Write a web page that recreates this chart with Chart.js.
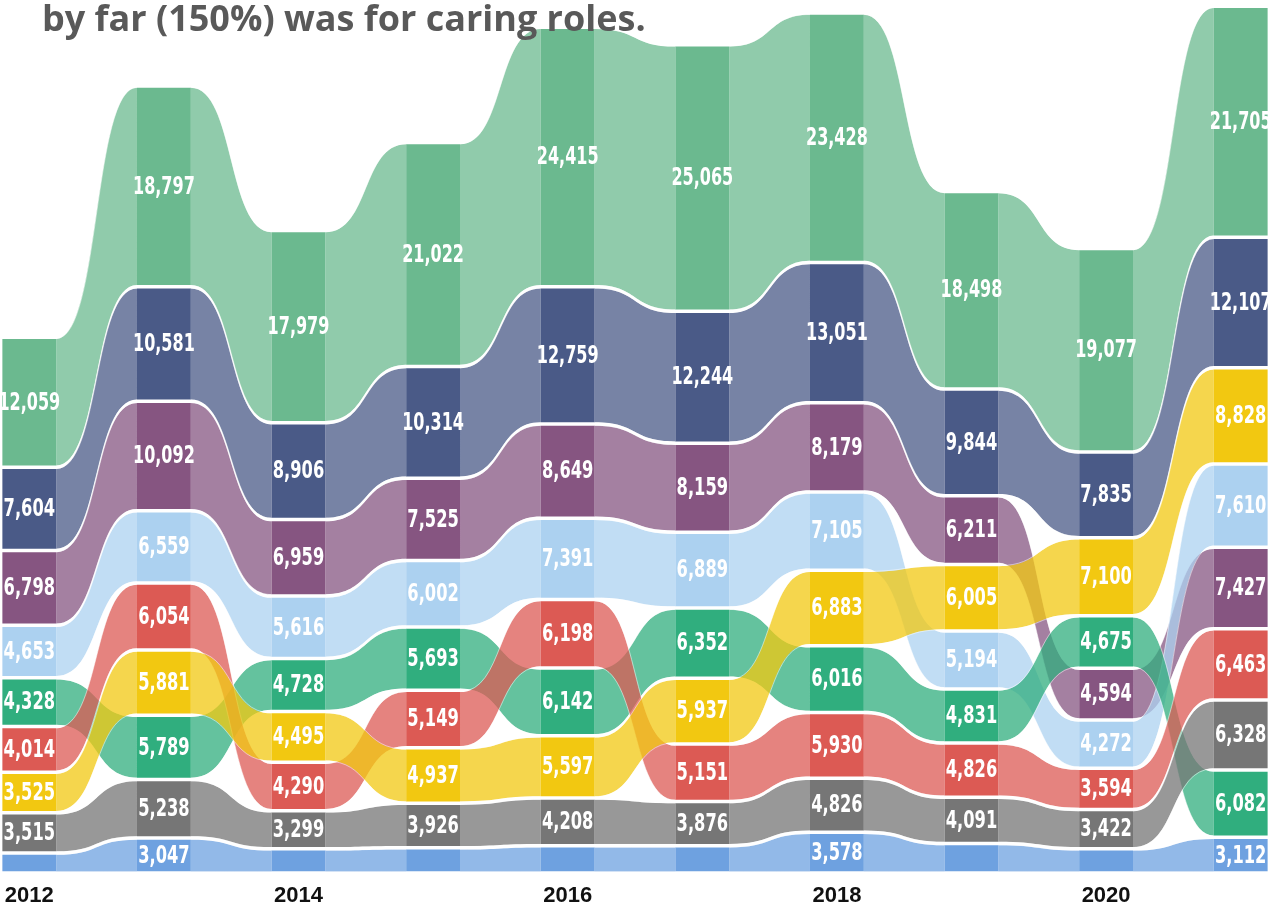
<!DOCTYPE html>
<html>
<head>
<meta charset="utf-8">
<script src="https://cdn.jsdelivr.net/npm/chart.js@4.4.1/dist/chart.umd.min.js"></script>
<style>
  html, body { margin: 0; padding: 0; background: #fff; overflow: hidden; }
  body { width: 1281px; height: 909px; position: relative; }
  #clip { position: absolute; left: 0; top: 0; width: 1268px; height: 909px; overflow: hidden; }
  #wrap { position: absolute; left: -38px; top: 0; width: 1346px; height: 912px; }
  #headline {
    position: absolute; left: 42px; top: 0; z-index: 2;
    font: bold 36px/36px "Open Sans", sans-serif; color: #595959; white-space: nowrap;
  }
</style>
</head>
<body>
<div id="clip"><div id="wrap"><canvas id="ribbon"></canvas></div></div>
<div id="headline">by far (150%) was for caring roles.</div>
<script>
const years = ['2012', '2013', '2014', '2015', '2016', '2017', '2018', '2019', '2020', '2021'];
const tickLabels = ['2012', '', '2014', '', '2016', '', '2018', '', '2020', ''];

// one array per ribbon, named by its colour in the picture
const green     = [12059, 18797, 17979, 21022, 24415, 25065, 23428, 18498, 19077, 21705];
const navy      = [7604, 10581, 8906, 10314, 12759, 12244, 13051, 9844, 7835, 12107];
const purple    = [6798, 10092, 6959, 7525, 8649, 8159, 8179, 6211, 4594, 7427];
const lightBlue = [4653, 6559, 5616, 6002, 7391, 6889, 7105, 5194, 4272, 7610];
const teal      = [4328, 5789, 4728, 5693, 6142, 6352, 6016, 4831, 4675, 6082];
const red       = [4014, 6054, 4290, 5149, 6198, 5151, 5930, 4826, 3594, 6463];
const caring    = [3525, 5881, 4495, 4937, 5597, 5937, 6883, 6005, 7100, 8828];  // yellow
const grey      = [3515, 5238, 3299, 3926, 4208, 3876, 4826, 4091, 3422, 6328];
const blue      = [1600, 3047, 2000, 2100, 2300, 2300, 3578, 2500, 2000, 3112];

const series = [
  { name: 'green', values: green, color: '#6bb98f' },
  { name: 'navy', values: navy, color: '#4a5a87' },
  { name: 'purple', values: purple, color: '#865581' },
  { name: 'light blue', values: lightBlue, color: '#acd1f0' },
  { name: 'teal', values: teal, color: '#30ae7e' },
  { name: 'red', values: red, color: '#dc5a54' },
  { name: 'caring', values: caring, color: '#f2c811' },
  { name: 'grey', values: grey, color: '#767676' },
  { name: 'blue', values: blue, color: '#6ea1e0' }
];

// white space between stacked segments, in value units (about 3.5px)
const SEGMENT_GAP = 334;

// ribbon chart: in every year the smallest value sits at the bottom
function stackByRank() {
  const ranges = series.map(() => []);
  years.forEach((_, i) => {
    const order = series.map((s, k) => k).sort((a, b) => series[a].values[i] - series[b].values[i]);
    let run = 0;
    order.forEach(k => {
      const v = series[k].values[i];
      ranges[k][i] = [run, run + v];
      run += v + SEGMENT_GAP;
    });
  });
  return ranges;
}

const ranges = stackByRank();

const ribbonPlugin = {
  id: 'ribbons',
  beforeDatasetsDraw(chart) {
    const ctx = chart.ctx;
    chart.data.datasets.forEach((ds, k) => {
      const bars = chart.getDatasetMeta(k).data;
      ctx.save();
      for (let i = 0; i < bars.length - 1; i++) {
        const a = bars[i], b = bars[i + 1];
        const x1 = a.x + a.width / 2, x2 = b.x - b.width / 2;
        const t1 = a.y, b1 = a.base;
        const t2 = b.y, b2 = b.base;
        const c = (x2 - x1) * 0.55;
        ctx.beginPath();
        ctx.moveTo(x1, t1);
        ctx.bezierCurveTo(x1 + c, t1, x2 - c, t2, x2, t2);
        ctx.lineTo(x2, b2);
        ctx.bezierCurveTo(x2 - c, b2, x1 + c, b1, x1, b1);
        ctx.closePath();
        ctx.globalAlpha = 0.75;
        ctx.fillStyle = ds.backgroundColor;
        ctx.fill();
        // thin white edges along the top and bottom curves
        ctx.globalAlpha = 0.5;
        ctx.strokeStyle = '#ffffff';
        ctx.lineWidth = 1;
        ctx.beginPath();
        ctx.moveTo(x1, t1 - 0.5);
        ctx.bezierCurveTo(x1 + c, t1 - 0.5, x2 - c, t2 - 0.5, x2, t2 - 0.5);
        ctx.moveTo(x1, b1 + 0.5);
        ctx.bezierCurveTo(x1 + c, b1 + 0.5, x2 - c, b2 + 0.5, x2, b2 + 0.5);
        ctx.stroke();
      }
      ctx.restore();
    });
  }
};

const labelPlugin = {
  id: 'barLabels',
  afterDatasetsDraw(chart) {
    const ctx = chart.ctx;
    ctx.save();
    ctx.fillStyle = '#ffffff';
    ctx.textAlign = 'center';
    ctx.textBaseline = 'middle';
    ctx.font = 'bold 24px "Liberation Sans Narrow", "DejaVu Sans Condensed", sans-serif';
    chart.data.datasets.forEach((ds, k) => {
      chart.getDatasetMeta(k).data.forEach((bar, i) => {
        if (bar.base - bar.y < 29) return;
        const text = series[k].values[i].toLocaleString('en-US');
        // squeeze to the narrow look of the original labels
        ctx.fillText(text, bar.x, (bar.y + bar.base) / 2 + 1, text.length * 10.3);
      });
    });
    ctx.restore();
  }
};

new Chart(document.getElementById('ribbon'), {
  type: 'bar',
  data: {
    labels: years,
    datasets: series.map((s, k) => ({
      label: s.name,
      data: ranges[k],
      backgroundColor: s.color,
      borderWidth: 0,
      barPercentage: 0.4,
      categoryPercentage: 1,
      grouped: false
    }))
  },
  options: {
    responsive: true,
    maintainAspectRatio: false,
    animation: false,
    layout: { padding: 0 },
    scales: {
      x: {
        offset: true,
        grid: { display: false },
        border: { display: false },
        ticks: {
          autoSkip: false,
          maxRotation: 0,
          padding: 3,
          color: '#111111',
          font: { family: '"Liberation Sans", Arial, sans-serif', weight: 'bold', size: 22 },
          callback: (value, index) => tickLabels[index]
        }
      },
      y: { display: false, min: 0, max: 83085 }
    },
    plugins: {
      legend: { display: false },
      tooltip: { enabled: false }
    }
  },
  plugins: [ribbonPlugin, labelPlugin]
});
</script>
</body>
</html>
